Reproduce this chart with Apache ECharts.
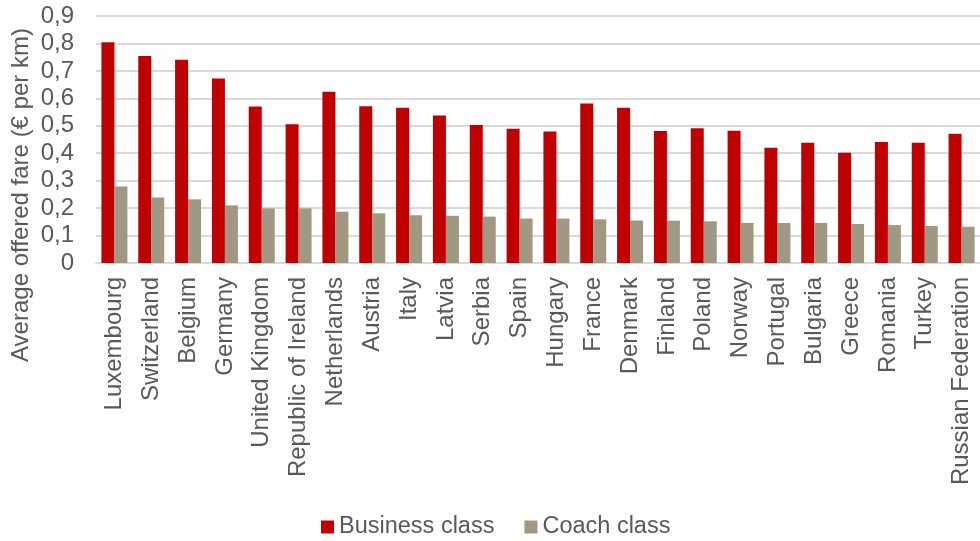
<!DOCTYPE html>
<html>
<head>
<meta charset="utf-8">
<script src="https://cdn.jsdelivr.net/npm/echarts@6/dist/echarts.min.js"></script>
<style>
  html, body { margin: 0; padding: 0; background: #fff; }
  #chart { width: 980px; height: 541px; }
</style>
</head>
<body>
<div id="chart"></div>
<script>
const countries = [
  'Luxembourg', 'Switzerland', 'Belgium', 'Germany', 'United Kingdom',
  'Republic of Ireland', 'Netherlands', 'Austria', 'Italy', 'Latvia',
  'Serbia', 'Spain', 'Hungary', 'France', 'Denmark', 'Finland', 'Poland',
  'Norway', 'Portugal', 'Bulgaria', 'Greece', 'Romania', 'Turkey',
  'Russian Federation'
];
const businessClass = [
  0.804, 0.754, 0.741, 0.672, 0.570, 0.506, 0.624, 0.571, 0.566, 0.537,
  0.503, 0.489, 0.479, 0.581, 0.566, 0.481, 0.491, 0.482, 0.420, 0.438,
  0.402, 0.441, 0.438, 0.471
];
const coachClass = [
  0.279, 0.239, 0.232, 0.210, 0.199, 0.199, 0.187, 0.181, 0.174, 0.172,
  0.169, 0.162, 0.162, 0.159, 0.155, 0.154, 0.152, 0.146, 0.146, 0.146,
  0.142, 0.138, 0.135, 0.132
];
const yTicks = [0, 0.1, 0.2, 0.3, 0.4, 0.5, 0.6, 0.7, 0.8, 0.9];
const yTitle = 'Average offered fare (€ per km)';

const font = 'Liberation Sans, Arial, sans-serif';
const textGrey = '#595959';
const chart = echarts.init(document.getElementById('chart'));
chart.setOption({
  animation: false,
  textStyle: { fontFamily: font },
  grid: { left: 96, right: 0, top: 16, bottom: 278, containLabel: false },
  graphic: [{
    type: 'text',
    x: 21,
    y: 195,
    rotation: Math.PI / 2,
    style: {
      text: yTitle,
      fontSize: 24,
      fontFamily: font,
      fill: textGrey,
      align: 'center',
      verticalAlign: 'middle'
    }
  }],
  legend: {
    top: 515,
    left: 321,
    padding: 0,
    itemWidth: 13,
    itemHeight: 13,
    itemGap: 30,
    icon: 'rect',
    textStyle: { fontSize: 23.5, color: textGrey, fontFamily: font },
    data: ['Business class', 'Coach class']
  },
  xAxis: {
    type: 'category',
    data: countries,
    axisLine: { lineStyle: { color: '#d9d9d9', width: 2 } },
    axisTick: { show: false },
    axisLabel: {
      rotate: 90,
      interval: 0,
      margin: 14,
      fontSize: 24,
      color: textGrey,
      fontFamily: font
    }
  },
  yAxis: {
    type: 'value',
    min: yTicks[0],
    max: yTicks[yTicks.length - 1],
    interval: 0.1,
    axisLine: { show: false },
    axisTick: { show: false },
    axisLabel: {
      fontSize: 24,
      color: textGrey,
      margin: 22,
      fontFamily: font,
      formatter: v => (Math.round(v * 10) / 10).toString().replace('.', ',')
    },
    splitLine: { lineStyle: { color: '#d9d9d9', width: 2 } }
  },
  series: [
    {
      name: 'Business class',
      type: 'bar',
      data: businessClass,
      barWidth: 13,
      barGap: '0%',
      itemStyle: { color: '#C00000' }
    },
    {
      name: 'Coach class',
      type: 'bar',
      data: coachClass,
      barWidth: 13,
      itemStyle: { color: '#A19884' }
    }
  ]
});
</script>
</body>
</html>
